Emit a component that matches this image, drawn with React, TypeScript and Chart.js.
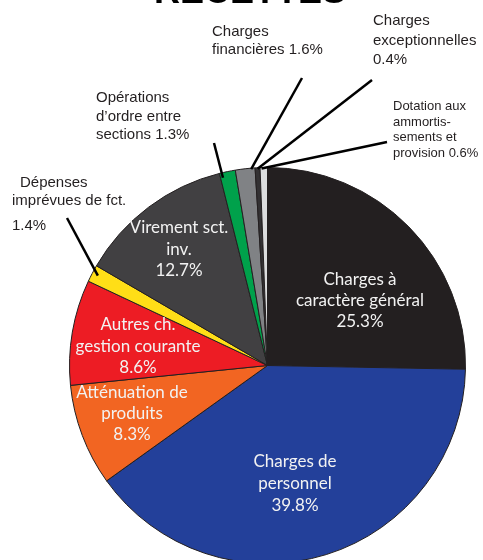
import React, { useEffect, useRef } from "react";
import { Chart, registerables } from "chart.js";

Chart.register(...registerables);

const title = "RECETTES";

const categories = [
  "Charges à caractère général",
  "Charges de personnel",
  "Atténuation de produits",
  "Autres ch. gestion courante",
  "Dépenses imprévues de fct.",
  "Virement sct. inv.",
  "Opérations d’ordre entre sections",
  "Charges financières",
  "Charges exceptionnelles",
  "Dotation aux ammortis-sements et provision",
];

const values = [25.3, 39.8, 8.3, 8.6, 1.4, 12.7, 1.3, 1.6, 0.4, 0.6];

const sliceColors = [
  "#231f20",
  "#23409a",
  "#f26522",
  "#ed1c24",
  "#ffde17",
  "#414042",
  "#00a14b",
  "#808285",
  "#333133",
  "#dcddde",
];

// Label text lines (percent appended from values)
const insideLabelText: Record<number, string[]> = {
  0: ["Charges à", "caractère général"],
  1: ["Charges de", "personnel"],
  2: ["Atténuation de", "produits"],
  3: ["Autres ch.", "gestion courante"],
  5: ["Virement sct.", "inv."],
};

const outsideLabelText: Record<number, string[]> = {
  4: ["Dépenses", "imprévues de fct.", ""],
  6: ["Opérations", "d’ordre entre", "sections"],
  7: ["Charges", "financières"],
  8: ["Charges", "exceptionnelles", ""],
  9: ["Dotation aux", "ammortis-", "sements et", "provision"],
};

const W = 483;
const H = 560;
const CH = 600;

// layout for inside labels: offsets from pie centre
const insideLayout: Record<number, { dx: number; dy: number; lh: number }> = {
  0: { dx: 92.5, dy: -85.5, lh: 21 },
  1: { dx: 27.5, dy: 96.5, lh: 22 },
  2: { dx: -135.5, dy: 27.5, lh: 21 },
  3: { dx: -129.5, dy: -40.5, lh: 21.5 },
  5: { dx: -88.5, dy: -137.5, lh: 21.5 },
};

// layout for outside labels: absolute text positions + leader line anchor
const outsideLayout: Record<
  number,
  { xs: number[]; ys: number[]; size: number; lineEnd: [number, number]; frac: number; inset: number }
> = {
  4: { xs: [20, 12, 12], ys: [183, 201, 226], size: 15, lineEnd: [67, 218], frac: 0.54, inset: 6 },
  6: { xs: [96, 96, 96], ys: [98, 117, 135], size: 15, lineEnd: [214, 143], frac: 0.15, inset: 5 },
  7: { xs: [212, 212], ys: [32, 50], size: 15, lineEnd: [302, 78], frac: 0.8, inset: 1 },
  8: { xs: [373, 373, 373], ys: [21, 41, 60], size: 15, lineEnd: [372, 80], frac: 0.5, inset: 1 },
  9: { xs: [393, 393, 393, 393], ys: [106, 122, 137, 153], size: 13, lineEnd: [387, 142], frac: 0.2, inset: 1 },
};

export default function App() {
  const ref = useRef<HTMLCanvasElement>(null);

  useEffect(() => {
    const canvas = ref.current;
    if (!canvas) return;

    const labelsPlugin = {
      id: "pieLabels",
      afterDatasetsDraw(chart: any) {
        const ctx: CanvasRenderingContext2D = chart.ctx;
        const arcs = chart.getDatasetMeta(0).data as any[];
        ctx.save();

        // title (cut off at top)
        ctx.fillStyle = "#000000";
        ctx.font = "bold 36px 'Liberation Sans', Arial, sans-serif";
        ctx.textAlign = "center";
        ctx.textBaseline = "alphabetic";
        ctx.fillText(title, 250, 3);

        // inside labels
        ctx.textAlign = "center";
        ctx.textBaseline = "middle";
        ctx.font = "17px Lato, 'Open Sans', sans-serif";
        ctx.fillStyle = "#f2f2f2";
        Object.keys(insideLayout).forEach((k) => {
          const i = Number(k);
          const arc = arcs[i];
          const lay = insideLayout[i];
          const lines = [...insideLabelText[i], values[i].toFixed(1) + "%"];
          const cx = arc.x + lay.dx;
          lines.forEach((t, j) => {
            ctx.fillText(t, cx, arc.y + lay.dy + j * lay.lh);
          });
        });

        // outside labels with leader lines
        ctx.textAlign = "left";
        Object.keys(outsideLayout).forEach((k) => {
          const i = Number(k);
          const arc = arcs[i];
          const lay = outsideLayout[i];
          const pct = values[i].toFixed(1) + "%";
          const txt = outsideLabelText[i].slice();
          const last = txt.length - 1;
          txt[last] = txt[last] ? txt[last] + " " + pct : pct;
          ctx.fillStyle = "#231f20";
          ctx.font = `${lay.size}px 'Liberation Sans', Arial, sans-serif`;
          txt.forEach((t, j) => ctx.fillText(t, lay.xs[j], lay.ys[j]));

          const a = arc.startAngle + (arc.endAngle - arc.startAngle) * lay.frac;
          const r = arc.outerRadius - lay.inset;
          const px = arc.x + Math.cos(a) * r;
          const py = arc.y + Math.sin(a) * r;
          ctx.strokeStyle = "#000000";
          ctx.lineWidth = 2.5;
          ctx.beginPath();
          ctx.moveTo(lay.lineEnd[0], lay.lineEnd[1]);
          ctx.lineTo(px, py);
          ctx.stroke();
        });

        ctx.restore();
      },
    };

    const chart = new Chart(canvas, {
      type: "pie",
      data: {
        labels: categories,
        datasets: [
          {
            data: values,
            backgroundColor: sliceColors,
            borderColor: "#231f20",
            borderWidth: 1,
          },
        ],
      },
      options: {
        responsive: false,
        animation: false,
        layout: { padding: { left: 69, right: 17, top: 167, bottom: 36 } },
        plugins: {
          legend: { display: false },
          tooltip: { enabled: false },
          title: { display: false },
        },
      },
      plugins: [labelsPlugin],
    } as any);

    return () => chart.destroy();
  }, []);

  return (
    <div
      style={{
        position: "fixed",
        left: 0,
        top: 0,
        width: W,
        height: H,
        overflow: "hidden",
        background: "#ffffff",
      }}
    >
      <canvas ref={ref} width={W} height={CH} style={{ display: "block", width: W, height: CH }} />
    </div>
  );
}
